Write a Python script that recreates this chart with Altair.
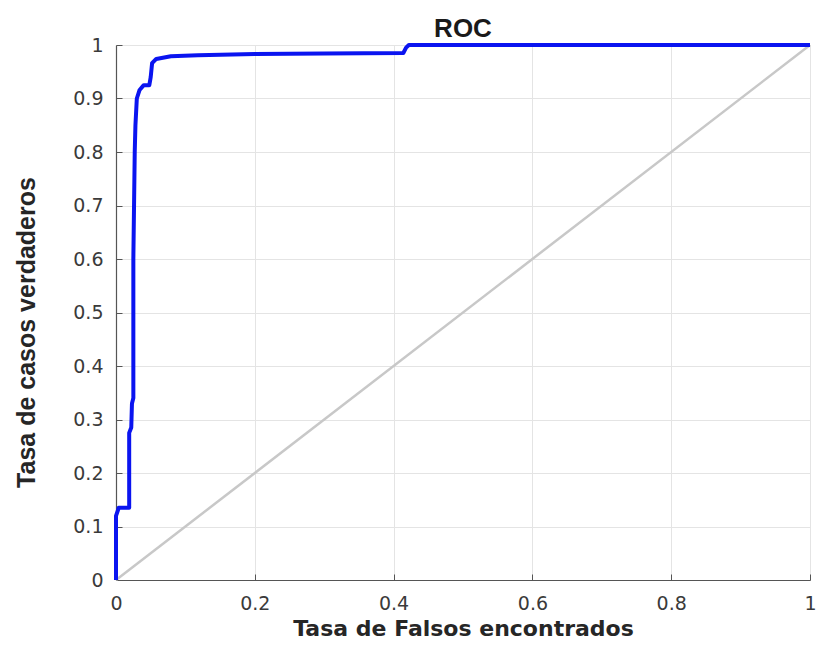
import altair as alt
import pandas as pd

# ROC curve points
fpr = [0.0, 0.0, 0.004, 0.019, 0.019, 0.022, 0.023, 0.025, 0.025, 0.027, 0.028, 0.030,
       0.034, 0.040, 0.048, 0.050, 0.052, 0.058, 0.079, 0.118, 0.200, 0.300, 0.414,
       0.418, 0.422, 1.0]
tpr = [0.0, 0.120, 0.135, 0.135, 0.275, 0.285, 0.330, 0.340, 0.600, 0.800, 0.850, 0.900,
       0.916, 0.925, 0.925, 0.940, 0.966, 0.974, 0.979, 0.981, 0.983, 0.984, 0.985,
       0.995, 1.0, 1.0]
diag_x = [0.0, 1.0]
diag_y = [0.0, 1.0]

x_ticks = [0, 0.2, 0.4, 0.6, 0.8, 1]
y_ticks = [0, 0.1, 0.2, 0.3, 0.4, 0.5, 0.6, 0.7, 0.8, 0.9, 1]

roc = pd.DataFrame({"fpr": fpr, "tpr": tpr, "ord": list(range(len(fpr)))})
diag = pd.DataFrame({"fpr": diag_x, "tpr": diag_y, "ord": [0, 1]})

label_font = "DejaVu Sans"
xs = alt.Scale(domain=[0, 1], nice=False, zero=False)
ys = alt.Scale(domain=[0, 1], nice=False, zero=False)

main_x = alt.Axis(values=x_ticks, format="~g", title="Tasa de Falsos encontrados",
                  grid=True, gridColor="#e4e4e4", gridWidth=1,
                  domainColor="#555555", domainWidth=1.2, ticks=False,
                  labelFlush=False, labelOverlap=False,
                  labelFont=label_font, labelFontSize=19, labelColor="#3a3a3a",
                  labelPadding=14, titleFont="DejaVu Sans", titleFontSize=22,
                  titleFontWeight="bold", titleColor="#262626", titlePadding=5)
main_y = alt.Axis(values=y_ticks, format="~g", title="Tasa de casos verdaderos",
                  grid=True, gridColor="#e4e4e4", gridWidth=1,
                  domainColor="#555555", domainWidth=1.2, ticks=False,
                  labelFlush=False, labelOverlap=False,
                  labelFont=label_font, labelFontSize=19, labelColor="#3a3a3a",
                  labelPadding=13, titleFont="Liberation Sans",
                  titleFontSize=25, titleFontWeight="bold", titleColor="#262626",
                  titlePadding=33, titleY=287)

diag_layer = alt.Chart(diag).mark_line(color="#c8c8c8", strokeWidth=2.5).encode(
    x=alt.X("fpr:Q", scale=xs, axis=main_x),
    y=alt.Y("tpr:Q", scale=ys, axis=main_y),
    order="ord:Q",
)

tick_x = alt.Axis(orient="bottom", values=x_ticks, offset=-6, tickSize=6, tickColor="#555555",
                  labels=False, domain=False, grid=False, title=None)
tick_y = alt.Axis(orient="left", values=y_ticks, offset=-6, tickSize=6, tickColor="#555555",
                  labels=False, domain=False, grid=False, title=None)

roc_layer = alt.Chart(roc).mark_line(color="#0a14f0", strokeWidth=4, strokeJoin="round").encode(
    x=alt.X("fpr:Q", scale=xs, axis=tick_x),
    y=alt.Y("tpr:Q", scale=ys, axis=tick_y),
    order="ord:Q",
)

chart = alt.layer(diag_layer, roc_layer).resolve_axis(
    x="independent", y="independent"
).properties(
    width=694, height=535,
    autosize=alt.AutoSizeParams(type="none"),
    padding={"left": 108, "top": 37, "right": 6, "bottom": 62},
    title=alt.TitleParams("ROC", font="Liberation Sans", fontSize=26, fontWeight="bold",
                          color="#1a1a1a", offset=6, dy=12, anchor="middle"),
).configure_view(stroke=None).configure(background="white")

chart.save("out.html", embed_options={"renderer": "svg", "actions": False})
